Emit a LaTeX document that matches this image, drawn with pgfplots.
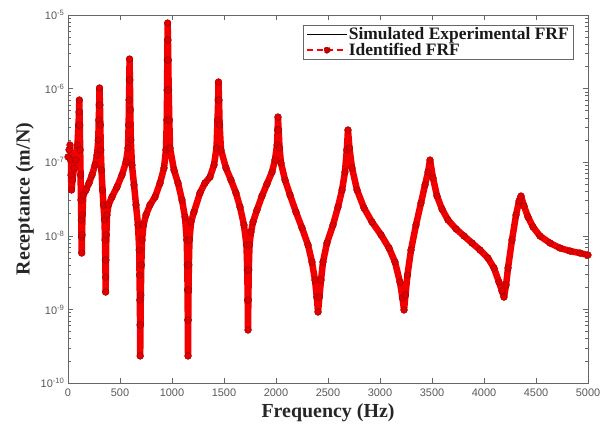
\documentclass[border=0pt]{standalone}
\usepackage{fontspec}
\setmainfont{Liberation Serif}
\setsansfont{Liberation Sans}
\usepackage{pgfplots}
\usepackage{pgfplotstable}
\pgfplotsset{compat=1.18}

% receptance, Hz vs m/N
\pgfplotstableread{
f v
0 1.18e-7
10 1.47e-7
19 1.71e-7
24 1.07e-7
29 6.70e-8
34 4.19e-8
43 5.73e-8
58 8.34e-8
77 1.07e-7
91 1.71e-7
101 3.20e-7
106 4.81e-7
109 7.00e-7
113 3.20e-7
117 1.47e-7
121 6.70e-8
125 3.06e-8
128 1.64e-8
130 9.64e-9
132 5.83e-9
135 1.03e-8
139 1.92e-8
147 3.58e-8
173 4.19e-8
202 5.21e-8
231 6.70e-8
260 9.16e-8
279 1.25e-7
291 2.00e-7
296 3.74e-7
300 5.98e-7
303 1.02e-6
307 5.98e-7
311 3.20e-7
315 1.47e-7
322 7.83e-8
332 4.19e-8
341 2.62e-8
351 1.64e-8
356 8.77e-9
359 4.69e-9
361 2.75e-9
362 1.72e-9
365 4.69e-9
369 1.03e-8
375 1.92e-8
389 2.62e-8
423 3.37e-8
471 4.60e-8
519 6.70e-8
558 1.01e-7
577 1.56e-7
583 3.20e-7
587 7.00e-7
590 1.31e-6
592 2.52e-6
595 1.31e-6
599 5.12e-7
604 2.00e-7
615 9.16e-8
635 4.90e-8
654 2.62e-8
673 1.40e-8
685 6.41e-9
688 2.93e-9
691 1.34e-9
693 6.14e-10
694 2.33e-10
697 6.14e-10
700 1.57e-9
705 4.01e-9
712 8.77e-9
726 1.40e-8
750 1.92e-8
788 2.62e-8
837 3.37e-8
885 5.21e-8
923 8.34e-8
942 1.47e-7
950 3.74e-7
953 9.57e-7
955 2.45e-6
957 4.57e-6
958 7.78e-6
961 4.57e-6
964 2.45e-6
968 9.57e-7
974 3.74e-7
981 1.56e-7
1019 7.83e-8
1058 5.21e-8
1096 3.06e-8
1125 1.80e-8
1142 8.77e-9
1147 4.01e-9
1150 1.84e-9
1152 7.18e-10
1154 2.33e-10
1156 7.18e-10
1159 1.84e-9
1162 4.01e-9
1168 8.77e-9
1183 1.54e-8
1211 2.10e-8
1269 3.82e-8
1317 5.21e-8
1365 6.29e-8
1404 9.16e-8
1428 1.56e-7
1438 3.74e-7
1444 7.00e-7
1447 1.23e-6
1452 7.00e-7
1458 3.20e-7
1471 1.47e-7
1519 8.34e-8
1567 5.73e-8
1615 3.82e-8
1654 2.46e-8
1692 1.40e-8
1716 7.50e-9
1724 3.43e-9
1728 1.34e-9
1731 5.25e-10
1734 1.34e-9
1738 3.43e-9
1745 7.50e-9
1760 1.13e-8
1779 1.54e-8
1817 2.24e-8
1865 3.47e-8
1913 5.06e-8
1962 7.36e-8
1990 1.07e-7
2010 1.71e-7
2016 2.74e-7
2019 4.11e-7
2025 2.74e-7
2034 1.56e-7
2048 9.75e-8
2087 5.73e-8
2135 3.58e-8
2192 2.10e-8
2250 1.28e-8
2308 7.50e-9
2346 4.41e-9
2375 2.51e-9
2392 1.47e-9
2404 9.22e-10
2417 1.47e-9
2433 2.51e-9
2452 4.41e-9
2490 7.98e-9
2548 1.40e-8
2596 2.46e-8
2635 4.19e-8
2663 7.36e-8
2681 1.47e-7
2692 2.74e-7
2706 1.56e-7
2731 8.34e-8
2779 4.19e-8
2846 2.39e-8
2923 1.54e-8
3010 1.03e-8
3087 6.82e-9
3144 4.41e-9
3192 2.35e-9
3216 1.43e-9
3231 9.82e-10
3245 1.57e-9
3264 2.93e-9
3298 6.41e-9
3346 1.40e-8
3394 2.79e-8
3433 4.90e-8
3462 7.36e-8
3481 1.07e-7
3510 6.10e-8
3548 3.47e-8
3596 2.31e-8
3654 1.64e-8
3731 1.24e-8
3808 9.94e-9
3885 7.98e-9
3962 6.41e-9
4038 4.99e-9
4096 3.65e-9
4144 2.35e-9
4173 1.78e-9
4192 1.47e-9
4212 2.15e-9
4231 3.65e-9
4269 8.77e-9
4308 1.92e-8
4337 2.97e-8
4356 3.47e-8
4385 2.54e-8
4423 1.80e-8
4471 1.32e-8
4538 9.94e-9
4635 7.98e-9
4731 6.82e-9
4827 6.21e-9
4923 5.83e-9
5000 5.48e-9
}\frf

\begin{document}
\begin{tikzpicture}
\useasboundingbox (-68bp,-43bp) rectangle (543bp,383bp);
\begin{axis}[
  at={(0,0)}, anchor=south west,
  scale only axis, width=520bp, height=368bp,
  ymode=log,
  xmin=0, xmax=5000, ymin=1e-10, ymax=1e-5,
  xtick={0,500,1000,1500,2000,2500,3000,3500,4000,4500,5000},
  xticklabels={0,500,1000,1500,2000,2500,3000,3500,4000,4500,5000},
  ytick={1e-10,1e-9,1e-8,1e-7,1e-6,1e-5},
  yticklabels={10\textsuperscript{-10},10\textsuperscript{-9},10\textsuperscript{-8},10\textsuperscript{-7},10\textsuperscript{-6},10\textsuperscript{-5}},
  minor ytick={2e-10,3e-10,4e-10,5e-10,6e-10,7e-10,8e-10,9e-10,
    2e-9,3e-9,4e-9,5e-9,6e-9,7e-9,8e-9,9e-9,
    2e-8,3e-8,4e-8,5e-8,6e-8,7e-8,8e-8,9e-8,
    2e-7,3e-7,4e-7,5e-7,6e-7,7e-7,8e-7,9e-7,
    2e-6,3e-6,4e-6,5e-6,6e-6,7e-6,8e-6,9e-6},
  scaled x ticks=false,
  tick align=inside,
  major tick length=5bp, minor tick length=3bp,
  axis line style={black!60, line width=0.7bp},
  every tick/.style={black!60, line width=0.6bp},
  tick label style={font=\sffamily\fontsize{11}{12}\selectfont, text=black!65},
  xticklabel style={yshift=-2bp},
  xlabel={Frequency (Hz)},
  ylabel={Receptance (m/N)},
  label style={font=\bfseries\fontsize{20}{22}\selectfont, text=black!85},
  x label style={at={(axis description cs:0.5,-0.08)}, anchor=center},
  y label style={at={(axis description cs:-0.083,0.5)}, anchor=center},
  legend style={at={(0.971,0.973)}, anchor=north east,
    draw=black!60, fill=white, inner xsep=3bp, inner ysep=1.5bp,
    nodes={inner sep=1bp},
    font=\fontsize{17.5}{18}\selectfont, text=black!90},
  legend cell align=left,
]
\addplot[black, line width=0.8bp, line join=round,
  legend image code/.code={\draw[black, line width=1.2bp] (0bp,0bp) -- (40bp,0bp);}]
  table[x=f, y=v]{\frf};
\addlegendentry{\textbf{Simulated Experimental FRF}}
\addplot[red!95!black, line width=6.5bp, line join=round, line cap=round, forget plot]
  table[x=f, y=v]{\frf};
\addplot[red, dashed, line width=0.8bp, mark=*, mark size=3.4bp,
  mark options={solid, fill=red!88!black, draw=red!60!black, line width=0.4bp},
  legend image code/.code={
    \draw[red, dash pattern=on 6bp off 4bp, line width=1.4bp] (0bp,0bp) -- (40bp,0bp);
    \fill[red!75!black] (20bp,0bp) circle (3.2bp);}]
  table[x=f, y=v]{\frf};
\addlegendentry{\textbf{Identified FRF}}
\end{axis}
\end{tikzpicture}
\end{document}
